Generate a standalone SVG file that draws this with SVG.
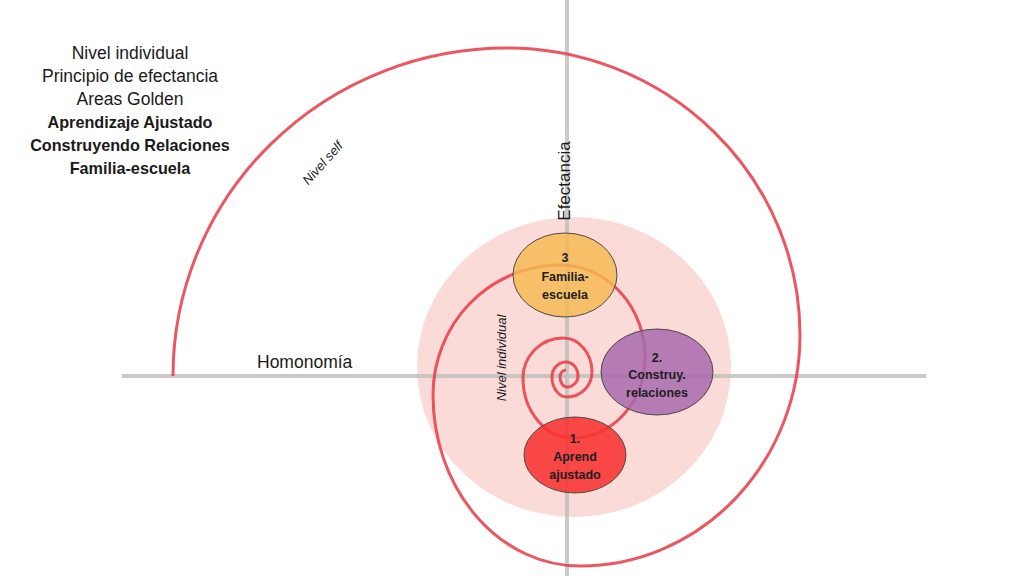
<svg xmlns="http://www.w3.org/2000/svg" width="1024" height="576" viewBox="0 0 1024 576">
<style>
.t{font-family:"Liberation Sans",Arial,sans-serif;fill:#1a1a1a}
.hdr{font-size:17.5px;text-anchor:middle}
.hb{font-size:16.2px;font-weight:bold;text-anchor:middle}
.ax{stroke:#bdbdbd;stroke-width:4;stroke-opacity:0.8}
.nt{font-family:"Liberation Sans",Arial,sans-serif;font-size:12.5px;font-weight:bold;fill:#202020;text-anchor:middle}
.el{stroke:#4a4a4a;stroke-width:1}
</style>
<rect width="1024" height="576" fill="#ffffff"/>
<ellipse id="zone" cx="574" cy="367" rx="157" ry="150" fill="#fadbd7"/>
<g id="axes">
<line class="ax" x1="122" y1="376" x2="926" y2="376"/>
<line class="ax" x1="567" y1="0" x2="567" y2="576"/>
</g>
<g id="connectors">
<path id="spiral" fill="none" stroke="#e83a44" stroke-width="3" stroke-opacity="0.85" d="M 566 370 A 6 7 0 0 0 560 377 A 7 10 0 0 0 567 387 A 11 11 0 0 0 578 376 A 12 14 0 0 0 566 362 A 14 15 0 0 0 552 377 A 15 20 0 0 0 567 397 A 25 25 0 0 0 592 372 A 29 34 0 0 0 563 338 A 40 40 0 0 0 523 378 A 50 60 0 0 0 573 438 A 72 81 0 0 0 645 357 A 85 92 0 0 0 560 265 A 127 130 0 0 0 433 395 A 147 171 0 0 0 580 566 A 220 231 0 0 0 800 335 A 293 287 0 0 0 507 48 A 334 328 0 0 0 173 376"/>
</g>
<g id="node3">
<ellipse class="el" cx="565" cy="275" rx="52" ry="42" fill="#f7b84f" fill-opacity="0.82"/>
<text class="nt" x="565" y="262">3</text>
<text class="nt" x="565" y="281">Familia-</text>
<text class="nt" x="565" y="299">escuela</text>
</g>
<g id="node2">
<ellipse class="el" cx="657" cy="372" rx="56" ry="43" fill="#a86aae" fill-opacity="0.85"/>
<text class="nt" x="657" y="362">2.</text>
<text class="nt" x="657" y="379">Construy.</text>
<text class="nt" x="657" y="397">relaciones</text>
</g>
<g id="node1">
<ellipse class="el" cx="575" cy="455" rx="51" ry="38" fill="#f83232" fill-opacity="0.88"/>
<text class="nt" x="575" y="443">1.</text>
<text class="nt" x="575" y="461">Aprend</text>
<text class="nt" x="575" y="479">ajustado</text>
</g>
<g id="legend">
<text class="t hdr" x="130" y="59">Nivel individual</text>
<text class="t hdr" x="130" y="82">Principio de efectancia</text>
<text class="t hdr" x="130" y="105">Areas Golden</text>
<text class="t hb" x="130" y="128">Aprendizaje Ajustado</text>
<text class="t hb" x="130" y="151">Construyendo Relaciones</text>
<text class="t hb" x="130" y="174">Familia-escuela</text>
</g>
<g id="labels">
<text class="t" x="257" y="368" font-size="17.5">Homonomía</text>
<text class="t" font-size="17" text-anchor="middle" transform="translate(570 181) rotate(-90)">Efectancia</text>
<text class="t" font-size="13" font-style="italic" text-anchor="middle" transform="translate(506 358) rotate(-90)">Nivel individual</text>
<text class="t" font-size="13" font-style="italic" text-anchor="middle" transform="translate(326 166) rotate(-48)">Nivel self</text>
</g>
</svg>
